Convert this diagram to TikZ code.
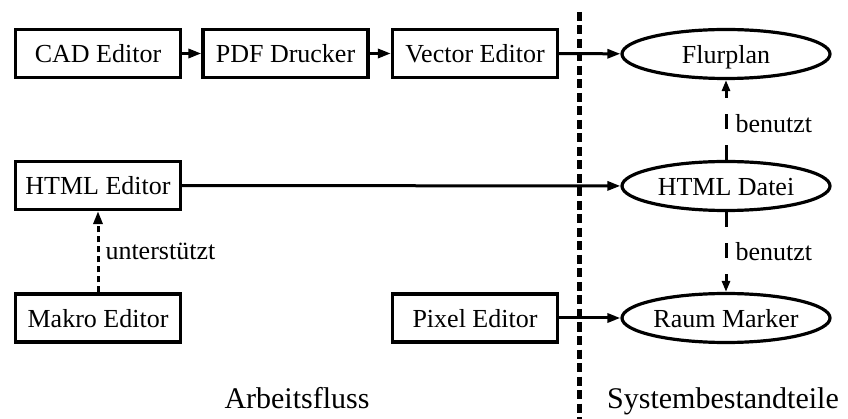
\documentclass[tikz,border=0pt]{standalone}
\usepackage{fontspec}
\setmainfont{Liberation Serif}
\usetikzlibrary{shapes.geometric,arrows.meta}
\begin{document}
\begin{tikzpicture}[x=1pt,y=-1pt,
  tool/.style={draw,line width=3.2pt,rectangle,minimum width=165pt,minimum height=48pt,inner sep=0pt,text height=19pt,text depth=0pt,font=\fontsize{26}{30}\selectfont},
  part/.style={draw,line width=3.2pt,ellipse,minimum width=208pt,minimum height=49pt,inner sep=0pt,text height=19pt,text depth=0pt,font=\fontsize{26}{30}\selectfont},
  flow/.style={line width=3pt,-{Triangle[length=13pt,width=9pt]}},
  uses/.style={line width=3pt,dash pattern=on 15pt off 16pt,-{Triangle[length=11pt,width=8pt]}},
  supp/.style={line width=3pt,dash pattern=on 6pt off 4pt,-{Triangle[length=13pt,width=9pt]}},
  lbl/.style={font=\fontsize{26}{30}\selectfont,inner sep=0pt,anchor=west},
  big/.style={font=\fontsize{30}{34}\selectfont,inner sep=0pt,text height=21pt,text depth=0pt}]
\useasboundingbox (0,0) rectangle (848,419);
\fill[white] (0,0) rectangle (848,419);
\node[tool] (cad) at (98,53.5) {CAD Editor};
\node[tool] (pdf) at (285.5,53.5) {PDF Drucker};
\node[tool] (vec) at (475,53.5) {Vector Editor};
\node[tool] (html) at (98,185.5) {HTML Editor};
\node[tool] (makro) at (98,318) {Makro Editor};
\node[tool] (pix) at (475,318) {Pixel Editor};
\node[part] (flur) at (726,54) {Flurplan};
\node[part] (hdat) at (726,186) {HTML Datei};
\node[part] (raum) at (726,318) {Raum Marker};
\coordinate (dtop) at (579,12);
\coordinate (dbot) at (579,419);
\draw[line width=5pt,dash pattern=on 9pt off 4.5pt] (dtop) -- (dbot);
\draw[flow] (cad) -- (pdf);
\draw[flow] (pdf) -- (vec);
\draw[flow] (vec) -- (flur);
\draw[flow] (html) -- (hdat);
\draw[flow] (pix) -- (raum);
\draw[uses] (hdat) -- node[lbl,pos=0.45,right=8pt] {benutzt} (flur);
\draw[uses] (hdat) -- node[lbl,pos=0.5,right=8pt] {benutzt} (raum);
\draw[supp] (makro) -- node[lbl,pos=0.5,right=6pt] {unterstützt} (html);
\node[big] (arb) at (297,398) {Arbeitsfluss};
\node[big] (sys) at (723,398) {Systembestandteile};
\end{tikzpicture}
\end{document}
